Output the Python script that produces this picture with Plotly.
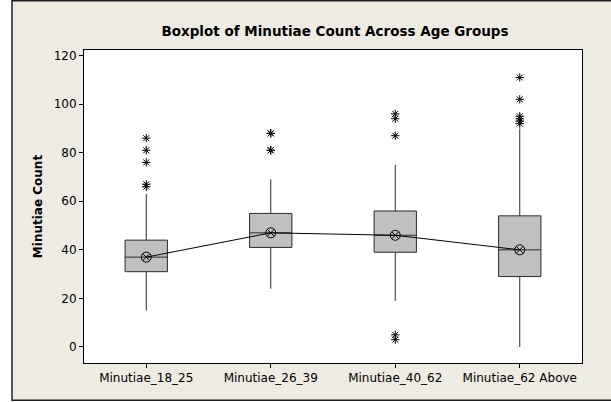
import plotly.graph_objects as go

categories = ["Minutiae_18_25", "Minutiae_26_39", "Minutiae_40_62", "Minutiae_62 Above"]
q1_vals = [31, 41, 39, 29]
median_vals = [37, 47, 46, 40]
q3_vals = [44, 55, 56, 54]
lower_whisker = [15, 24, 19, 0]
upper_whisker = [63, 69, 75, 90]
mean_vals = [37, 47, 46, 40]
outliers = [
    [86, 81, 76, 67, 66],
    [88, 88, 81, 81],
    [96, 94, 87, 5, 3],
    [111, 102, 95, 94, 93, 92],
]
y_ticks = [0, 20, 40, 60, 80, 100, 120]

FONT = "DejaVu Sans"

fig = go.Figure()

fig.add_trace(go.Box(
    x=categories,
    q1=q1_vals, median=median_vals, q3=q3_vals,
    lowerfence=lower_whisker, upperfence=upper_whisker,
    width=0.34, whiskerwidth=0,
    fillcolor="#C0C0C0",
    line=dict(color="#2a2a2a", width=1),
    showlegend=False, hoverinfo="skip",
))

ox, oy = [], []
for cat, vals in zip(categories, outliers):
    for v in vals:
        ox.append(cat)
        oy.append(v)
fig.add_trace(go.Scatter(
    x=ox, y=oy, mode="markers",
    marker=dict(symbol="asterisk-open", size=7, color="black",
                line=dict(color="black", width=1)),
    showlegend=False, hoverinfo="skip",
))

fig.add_trace(go.Scatter(
    x=categories, y=mean_vals, mode="lines+markers",
    line=dict(color="black", width=1),
    marker=dict(symbol="circle-x-open", size=10, color="black",
                line=dict(color="black", width=1)),
    showlegend=False, hoverinfo="skip",
))

FX0, FX1, FY0, FY1 = -0.1446, 1.08, -0.119, 1.1575
# white strips outside the beige frame
for (x0, x1, y0, y1) in [(-0.3, FX0, -0.3, 1.3), (-0.3, 1.3, -0.3, FY0), (-0.3, 1.3, FY1, 1.3)]:
    fig.add_shape(type="rect", xref="paper", yref="paper", x0=x0, x1=x1, y0=y0, y1=y1,
                  fillcolor="white", line=dict(width=0), layer="below")
# outer frame border
fig.add_shape(type="rect", xref="paper", yref="paper",
              x0=FX0, x1=FX1, y0=FY0, y1=FY1,
              fillcolor="rgba(0,0,0,0)", line=dict(color="#202020", width=1.5),
              layer="below")

fig.update_layout(
    width=611, height=402, autosize=False,
    margin=dict(l=84, r=29, t=50, b=39, autoexpand=False),
    paper_bgcolor="#EEEBE2", plot_bgcolor="white",
    font=dict(family=FONT, size=12, color="black"),
    title=dict(text="<b>Boxplot of Minutiae Count Across Age Groups</b>",
               x=0.504, xref="paper", xanchor="center",
               y=1 - 31/402, yref="container", yanchor="middle",
               font=dict(family=FONT, size=13.5, color="black")),
    xaxis=dict(type="category", categoryorder="array", categoryarray=categories,
               range=[-0.5, 3.5], showgrid=False, zeroline=False, automargin=False,
               showline=True, linecolor="black", linewidth=1, mirror=True,
               ticks="outside", ticklen=4, tickcolor="black",
               tickfont=dict(family=FONT, size=12, color="black")),
    yaxis=dict(range=[-6.6, 122.3], tickvals=y_ticks, showgrid=False, zeroline=False,
               automargin=False,
               showline=True, linecolor="black", linewidth=1, mirror=True,
               ticks="outside", ticklen=4, tickcolor="black",
               tickfont=dict(family=FONT, size=12, color="black"),
               title=dict(text="<b>Minutiae Count</b>", standoff=8,
                          font=dict(family=FONT, size=12, color="black"))),
)

fig.write_html("out.html", config={"displayModeBar": False},
               post_script="document.body.style.margin='0';")
